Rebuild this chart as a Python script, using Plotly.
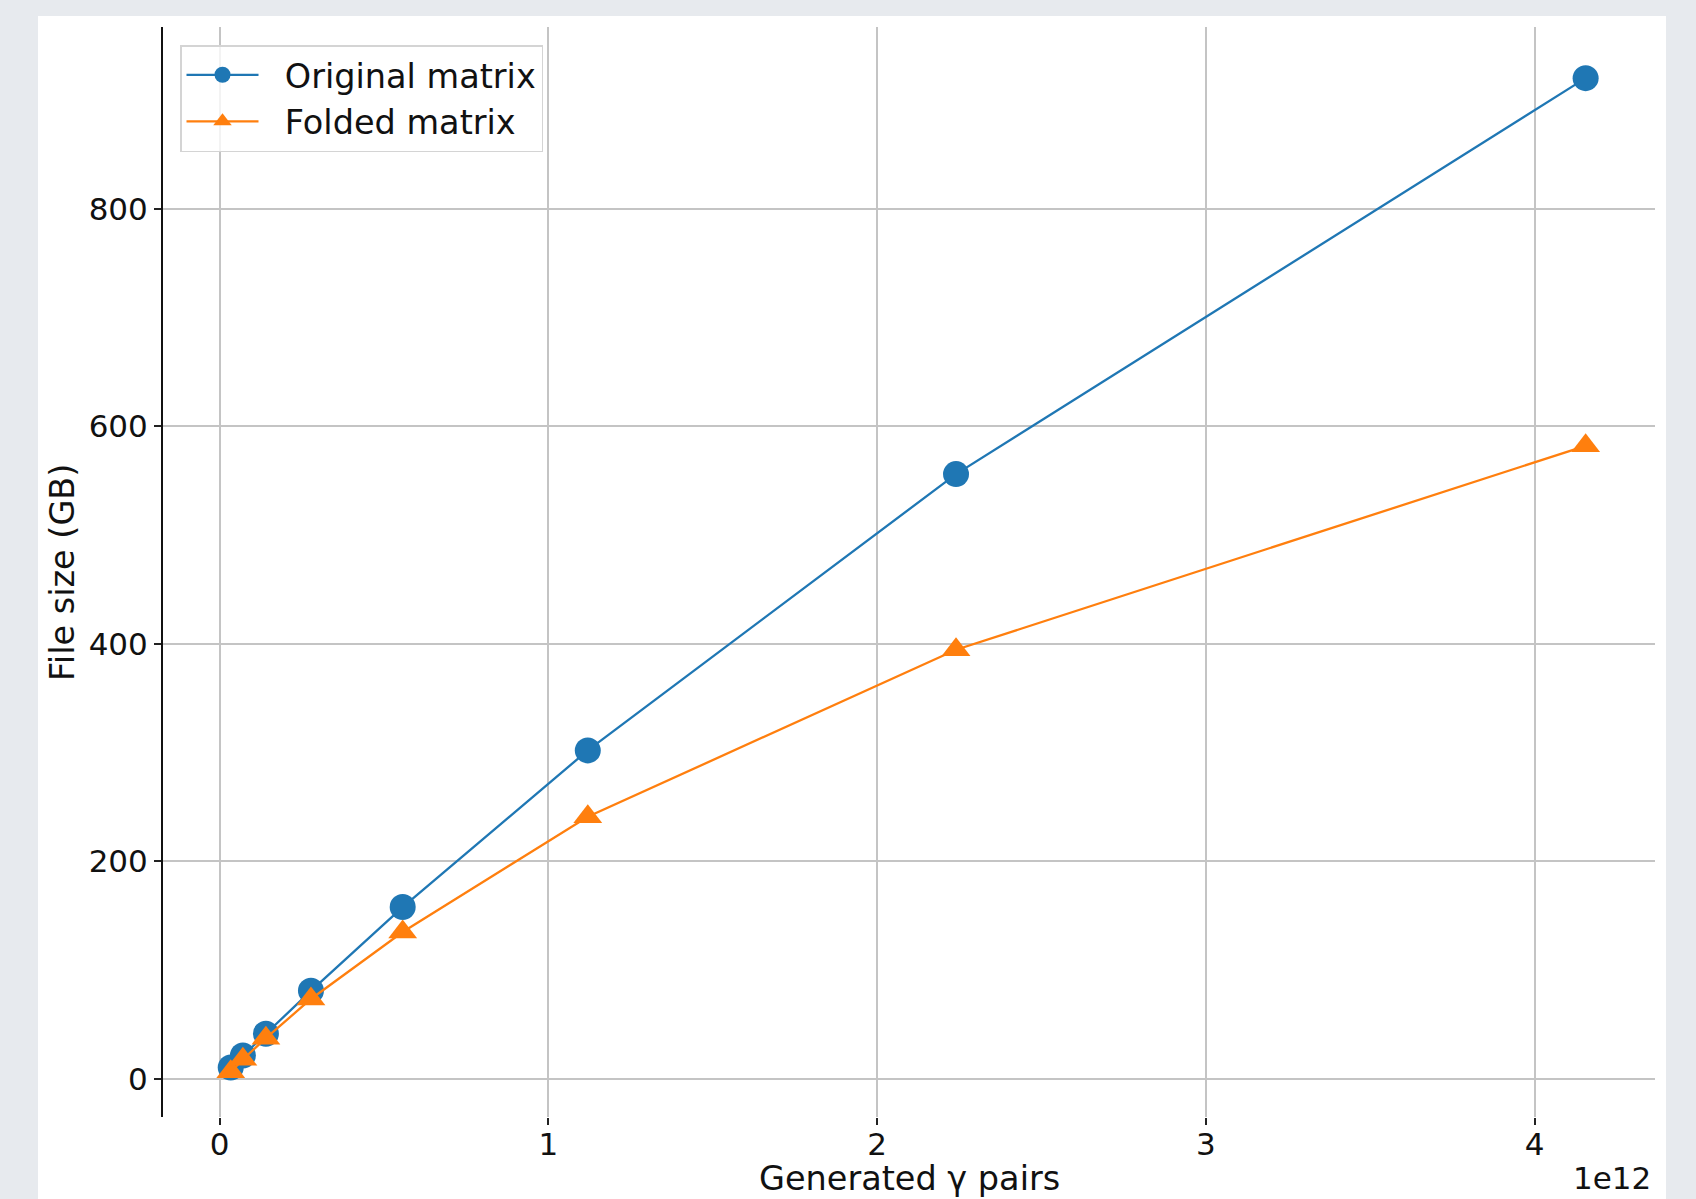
import plotly.graph_objects as go

# Generated gamma pairs (units of 1e12) and resulting file sizes in GB
pairs_e12 = [0.034, 0.071, 0.141, 0.278, 0.557, 1.12, 2.24, 4.155]
original_gb = [10.5, 21.5, 41.5, 81.0, 158.0, 302.0, 556.0, 920.0]
folded_gb = [6.5, 18.0, 37.5, 73.5, 135.0, 241.0, 394.5, 582.0]

x_ticks = [0, 1, 2, 3, 4]
x_tick_labels = ["0", "1", "2", "3", "4"]
y_ticks = [0, 200, 400, 600, 800]

SCALE = 1e12
BLUE = "#1f77b4"
ORANGE = "#ff7f0e"
FONT = "DejaVu Sans"
TICK_FS = 31
LABEL_FS = 33.5
INK = "#111111"

W, H = 1696, 1199
L, R, T, B = 163, 41, 27, 82
PW, PH = W - L - R, H - T - B


def px_to_paper_x(px):
    return (px - L) / PW


def px_to_paper_y(py):
    return (H - B - py) / PH


pairs = [p * SCALE for p in pairs_e12]
GAP = "\u00a0\u00a0"  # spacing between legend symbol and label

fig = go.Figure()
fig.add_trace(go.Scatter(
    x=pairs, y=original_gb, mode="lines+markers", name=GAP + "Original matrix",
    line=dict(color=BLUE, width=2.3),
    marker=dict(symbol="circle", size=26, color=BLUE),
))
fig.add_trace(go.Scatter(
    x=pairs, y=folded_gb, mode="lines+markers", name=GAP + "Folded matrix",
    line=dict(color=ORANGE, width=2.3),
    marker=dict(symbol="triangle-up", size=25, color=ORANGE),
))

# White figure panel on the grey page
fig.add_shape(
    type="rect", xref="paper", yref="paper", layer="below",
    x0=px_to_paper_x(38), x1=px_to_paper_x(1666),
    y0=px_to_paper_y(H + 5), y1=px_to_paper_y(16),
    fillcolor="white", line=dict(width=0),
)

axis_common = dict(
    showgrid=True, gridcolor="#c4c4c4", gridwidth=1.8,
    zeroline=False,
    ticks="outside", ticklen=7, tickwidth=1.5, tickcolor="#222222",
    tickfont=dict(family=FONT, size=TICK_FS, color=INK),
)

fig.update_layout(
    width=W, height=H,
    margin=dict(l=L, r=R, t=T, b=B, pad=0),
    paper_bgcolor="#e7eaee",
    plot_bgcolor="white",
    font=dict(family=FONT, size=LABEL_FS, color=INK),
    showlegend=True,
    legend=dict(
        x=px_to_paper_x(180), y=px_to_paper_y(45),
        xanchor="left", yanchor="top",
        bgcolor="rgba(255,255,255,0.8)",
        bordercolor="#d4d4d4", borderwidth=1.5,
        font=dict(family=FONT, size=LABEL_FS, color=INK),
        itemwidth=72,
    ),
    xaxis=dict(
        range=[-0.172 * SCALE, 4.366 * SCALE],
        tickvals=[v * SCALE for v in x_ticks], ticktext=x_tick_labels,
        showline=False, ticklabelstandoff=-7,
        **axis_common,
    ),
    yaxis=dict(
        range=[-35, 967],
        tickvals=y_ticks,
        showline=True, linecolor=INK, linewidth=2,
        **axis_common,
    ),
    annotations=[
        dict(text="Generated γ pairs", xref="paper", yref="paper",
             x=0.5, y=px_to_paper_y(1178), xanchor="center", yanchor="middle",
             showarrow=False, font=dict(family=FONT, size=LABEL_FS, color=INK)),
        dict(text="File size (GB)", xref="paper", yref="paper",
             x=px_to_paper_x(62), y=px_to_paper_y(573), textangle=-90,
             xanchor="center", yanchor="middle",
             showarrow=False, font=dict(family=FONT, size=LABEL_FS, color=INK)),
        dict(text="1e12", xref="paper", yref="paper",
             x=px_to_paper_x(1612), y=px_to_paper_y(1178),
             xanchor="center", yanchor="middle",
             showarrow=False, font=dict(family=FONT, size=TICK_FS, color=INK)),
    ],
)

fig.write_html("out.html")
